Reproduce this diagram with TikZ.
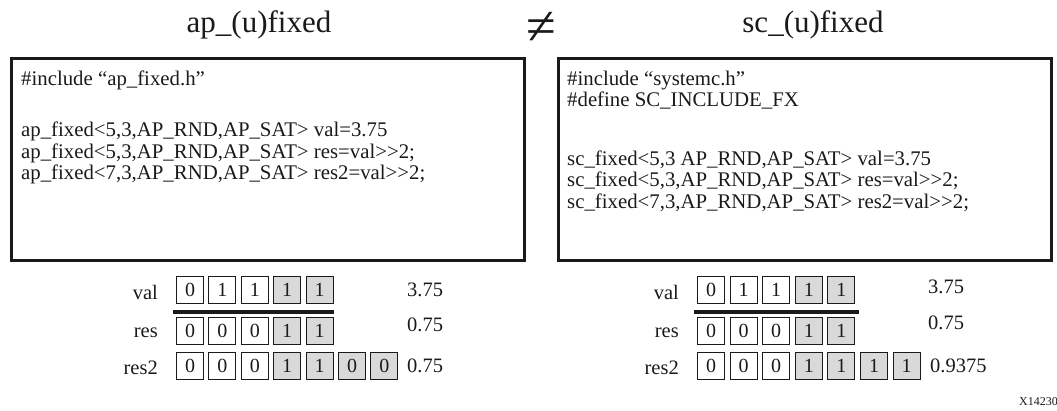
\documentclass[tikz,border=0pt]{standalone}
\usepackage{fontspec}
\setmainfont{Liberation Serif}
\usetikzlibrary{calc}
\definecolor{ink}{HTML}{1A1A1A}
\definecolor{cellgray}{HTML}{D9D9D9}

\begin{document}
\begin{tikzpicture}[
  x=1pt,y=-1pt,
  title/.style={font=\fontsize{31}{31}\selectfont,text=ink,inner sep=0pt},
  panel/.style={draw=ink,line width=2.6pt,anchor=north west,inner sep=0pt},
  code/.style={anchor=west,align=left,inner sep=0pt,text=ink,
               font=\fontsize{20.8}{21.3}\selectfont},
  bit/.style={draw=ink,line width=1.1pt,minimum width=27pt,minimum height=27pt,
              inner sep=0pt,text=ink,font=\fontsize{20}{20}\selectfont},
  frac/.style={bit,fill=cellgray},
  rowname/.style={anchor=east,inner sep=0pt,text=ink,font=\fontsize{20.5}{20.5}\selectfont},
  value/.style={anchor=west,inner sep=0pt,text=ink,font=\fontsize{20.5}{20.5}\selectfont},
  bar/.style={draw=ink,line width=4pt}
]
\useasboundingbox (0,0) rectangle (1057,411);

% Titles
\node[title] (aptitle) at (259,25) {ap\_(u)fixed};
\node[inner sep=0pt,text=ink,font=\fontsize{54}{54}\selectfont] (neq) at (541,28) {≠};
\node[title] (sctitle) at (813,25) {sc\_(u)fixed};

% Code panels
\node[panel,minimum width=513pt,minimum height=202pt] (appanel) at (10,57) {};
\node[panel,minimum width=493pt,minimum height=202pt] (scpanel) at (557,57) {};

\node[code] (apinc) at (21,80) {\#include “ap\_fixed.h”};
\node[code] (apdecl) at (21,153)
  {ap\_fixed<5,3,AP\_RND,AP\_SAT> val=3.75\\
   ap\_fixed<5,3,AP\_RND,AP\_SAT> res=val>{}>2;\\
   ap\_fixed<7,3,AP\_RND,AP\_SAT> res2=val>{}>2;};

\node[code] (scinc) at (567,90)
  {\#include “systemc.h”\\
   \#define SC\_INCLUDE\_FX};
\node[code] (scdecl) at (567,181)
  {sc\_fixed<5,3 AP\_RND,AP\_SAT> val=3.75\\
   sc\_fixed<5,3,AP\_RND,AP\_SAT> res=val>{}>2;\\
   sc\_fixed<7,3,AP\_RND,AP\_SAT> res2=val>{}>2;};

% ap_fixed bits
\node[rowname] (apvalname) at (158,292) {val};
\node[rowname] (apresname) at (158,333) {res};
\node[rowname] (apresbname) at (158,368) {res2};
\foreach \b/\s [count=\i] in {0/bit,1/bit,1/bit,1/frac,1/frac}
  \node[\s] (apval\i) at ({190+(\i-1)*32.4},290) {\b};
\foreach \b/\s [count=\i] in {0/bit,0/bit,0/bit,1/frac,1/frac}
  \node[\s] (apres\i) at ({190+(\i-1)*32.4},331) {\b};
\foreach \b/\s [count=\i] in {0/bit,0/bit,0/bit,1/frac,1/frac,0/frac,0/frac}
  \node[\s] (apresb\i) at ({190+(\i-1)*32.4},366) {\b};
\draw[bar] ($(apval1.south west)+(-3,7.5)$) -- ($(apval5.south east)+(0,7.5)$);
\node[value] (apvalnum) at (407,290) {3.75};
\node[value] (apresnum) at (407,325) {0.75};
\node[value] (apresbnum) at (407,366) {0.75};

% sc_fixed bits
\node[rowname] (scvalname) at (679,292) {val};
\node[rowname] (scresname) at (679,333) {res};
\node[rowname] (scresbname) at (679,368) {res2};
\foreach \b/\s [count=\i] in {0/bit,1/bit,1/bit,1/frac,1/frac}
  \node[\s] (scval\i) at ({711+(\i-1)*32.6},290) {\b};
\foreach \b/\s [count=\i] in {0/bit,0/bit,0/bit,1/frac,1/frac}
  \node[\s] (scres\i) at ({711+(\i-1)*32.6},331) {\b};
\foreach \b/\s [count=\i] in {0/bit,0/bit,0/bit,1/frac,1/frac,1/frac,1/frac}
  \node[\s] (scresb\i) at ({711+(\i-1)*32.6},366) {\b};
\draw[bar] ($(scval1.south west)+(-3,7.5)$) -- ($(scval5.south east)+(4,7.5)$);
\node[value] (scvalnum) at (928,287) {3.75};
\node[value] (scresnum) at (928,323) {0.75};
\node[value] (scresbnum) at (930,366) {0.9375};

% Figure tag
\node[anchor=west,inner sep=0pt,text=ink,font=\fontsize{12}{12}\selectfont] (tag) at (1019,402) {X14230};

\end{tikzpicture}
\end{document}
